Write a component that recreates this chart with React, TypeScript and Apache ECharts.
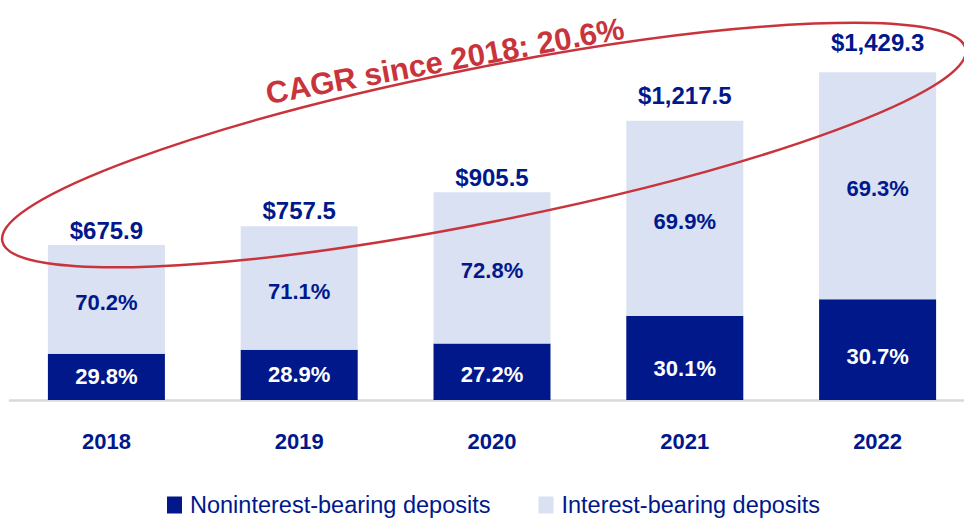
import React, { useEffect, useRef } from "react";
import * as echarts from "echarts";

const categories = ["2018", "2019", "2020", "2021", "2022"];
const totals = [675.9, 757.5, 905.5, 1217.5, 1429.3];
const noninterest = [201.4, 218.9, 246.3, 366.5, 438.8];
const interest = [474.5, 538.6, 659.2, 851.0, 990.5];
const noninterestPct = ["29.8%", "28.9%", "27.2%", "30.1%", "30.7%"];
const interestPct = ["70.2%", "71.1%", "72.8%", "69.9%", "69.3%"];
const seriesNames = ["Noninterest-bearing deposits", "Interest-bearing deposits"];
const cagrText = "CAGR since 2018: 20.6%";

// label nudges (px) as placed in the original slide
const totalLabelShift = [2, 0, 1, -9, -14];
const nonLabelShift = [0, 0, 3, 11, 7];

const NAVY = "#00188C";
const DARK_BAR = "#001889";
const LIGHT_BAR = "#D9E1F2";
const RED = "#C9343C";
const FONT = "'Liberation Sans', Arial, sans-serif";

function fmtTotal(v: number): string {
  const [i, d] = v.toFixed(1).split(".");
  return "$" + i.replace(/\B(?=(\d{3})+(?!\d))/g, ",") + "." + d;
}

export default function App() {
  const ref = useRef<HTMLDivElement>(null);
  useEffect(() => {
    if (!ref.current) return;
    const chart = echarts.init(ref.current, undefined, { renderer: "svg" });
    chart.setOption({
      animation: false,
      backgroundColor: "#ffffff",
      grid: { left: 10, right: 0, top: 56, bottom: 121, containLabel: false },
      legend: {
        data: seriesNames,
        left: 167,
        top: 493,
        padding: 0,
        icon: "rect",
        itemWidth: 15,
        itemHeight: 17,
        itemGap: 48,
        textStyle: { color: NAVY, fontSize: 23.5, fontFamily: FONT, padding: [0, 0, 0, 3] },
      },
      xAxis: {
        type: "category",
        data: categories,
        axisLine: { show: true, lineStyle: { color: "#D9D9D9", width: 2.5 } },
        axisTick: { show: false },
        axisLabel: {
          color: NAVY,
          fontSize: 22,
          fontWeight: "bold",
          fontFamily: FONT,
          margin: 30,
        },
      },
      yAxis: {
        type: "value",
        min: 0,
        max: 1500,
        show: false,
        splitLine: { show: false },
      },
      series: [
        {
          name: seriesNames[0],
          type: "bar",
          stack: "dep",
          barWidth: 117,
          data: noninterest.map((v, i) => ({
            value: v,
            label: { offset: [0, nonLabelShift[i]] },
          })),
          itemStyle: { color: DARK_BAR },
          label: {
            show: true,
            position: "inside",
            color: "#ffffff",
            fontSize: 22,
            fontWeight: "bold",
            fontFamily: FONT,
            formatter: (p: any) => noninterestPct[p.dataIndex],
          },
          z: 2,
        },
        {
          name: seriesNames[1],
          type: "bar",
          stack: "dep",
          barWidth: 117,
          data: interest,
          itemStyle: { color: LIGHT_BAR },
          label: {
            show: true,
            position: "inside",
            offset: [0, 3],
            color: NAVY,
            fontSize: 22,
            fontWeight: "bold",
            fontFamily: FONT,
            formatter: (p: any) => interestPct[p.dataIndex],
          },
          z: 2,
        },
        {
          name: "Total",
          type: "scatter",
          data: totals.map((v, i) => ({
            value: v,
            label: { offset: [0, totalLabelShift[i]] },
          })),
          symbolSize: 0,
          itemStyle: { color: NAVY, opacity: 1 },
          label: {
            show: true,
            position: "top",
            distance: 4,
            color: NAVY,
            fontSize: 24,
            fontWeight: "bold",
            fontFamily: FONT,
            formatter: (p: any) => fmtTotal(totals[p.dataIndex]),
          },
          z: 3,
        },
      ],
      graphic: [
        {
          type: "ellipse",
          x: 484,
          y: 145,
          rotation: (11.3 * Math.PI) / 180,
          shape: { cx: 0, cy: 0, rx: 491, ry: 77 },
          style: { fill: "none", stroke: RED, lineWidth: 2.5 },
          z: 100,
          silent: true,
        },
        {
          type: "text",
          x: 445,
          y: 61,
          rotation: (10.4 * Math.PI) / 180,
          style: {
            text: cagrText,
            fill: RED,
            fontSize: 31,
            fontWeight: "bold",
            fontFamily: FONT,
            align: "center",
            verticalAlign: "middle",
          },
          z: 101,
        },
      ],
    });
    return () => chart.dispose();
  }, []);
  return (
    <div
      style={{ position: "fixed", left: 0, top: 0, width: 964, height: 521, overflow: "hidden", background: "#fff" }}
    >
      <div ref={ref} style={{ width: 974, height: 521 }} />
    </div>
  );
}
